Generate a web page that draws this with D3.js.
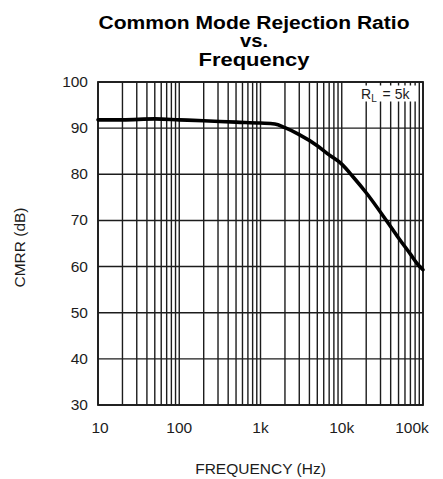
<!DOCTYPE html>
<html>
<head>
<meta charset="utf-8">
<script src="https://cdn.jsdelivr.net/npm/d3@7"></script>
<style>
  body { margin: 0; background: #fff; }
  svg { display: block; }
</style>
</head>
<body>
<svg id="chart"></svg>
<script>
// data
const freqs = [10, 20, 50, 100, 200, 500, 1000, 1500, 2000, 3000, 5000, 7000, 10000, 14000, 20000, 37000, 50000, 70000, 87000, 100000];
const cmrr = [91.8, 91.8, 92.0, 91.8, 91.6, 91.3, 91.1, 90.9, 90.1, 88.6, 86.2, 84.2, 82.2, 79.3, 76.0, 69.5, 66.2, 62.7, 60.4, 59.3];
const xTicks = [10, 100, 1000, 10000, 100000];
const xTickLabels = ["10", "100", "1k", "10k", "100k"];
const yTicks = [30, 40, 50, 60, 70, 80, 90, 100];
const titleLines = ["Common Mode Rejection Ratio", "vs.", "Frequency"];

// sizes
const W = 443, H = 479;
const margin = { top: 82, right: 20, bottom: 74, left: 98 };
const width = W - margin.left - margin.right;
const height = H - margin.top - margin.bottom;
const ink = "#1c1c1c";
const font = "'Liberation Sans', Arial, sans-serif";

const svg = d3.select("#chart")
  .attr("width", W)
  .attr("height", H);

const chart = svg.append("g")
  .attr("transform", `translate(${margin.left},${margin.top})`);

// scales
const xScale = d3.scaleLog()
  .domain([10, 100000])
  .range([0, width]);

const yScale = d3.scaleLinear()
  .domain([30, 100])
  .range([height, 0]);

// vertical grid: 1..9 in every decade
const minor = [];
for (let d = 10; d < 100000; d *= 10) {
  for (let k = 1; k <= 9; k++) minor.push(d * k);
}
minor.push(100000);

chart.append("g")
  .selectAll("line")
  .data(minor)
  .enter()
  .append("line")
  .attr("x1", d => xScale(d))
  .attr("x2", d => xScale(d))
  .attr("y1", 0)
  .attr("y2", height)
  .attr("stroke", ink)
  .attr("stroke-width", 1.4);

// horizontal grid
chart.append("g")
  .selectAll("line")
  .data(yTicks)
  .enter()
  .append("line")
  .attr("x1", 0)
  .attr("x2", width)
  .attr("y1", d => yScale(d))
  .attr("y2", d => yScale(d))
  .attr("stroke", ink)
  .attr("stroke-width", 1.4);

// frame
chart.append("rect")
  .attr("width", width)
  .attr("height", height)
  .attr("fill", "none")
  .attr("stroke", ink)
  .attr("stroke-width", 1.8);

// curve
const line = d3.line()
  .x((d, i) => xScale(freqs[i]))
  .y(d => yScale(d))
  .curve(d3.curveMonotoneX);

chart.append("path")
  .datum(cmrr)
  .attr("d", line)
  .attr("fill", "none")
  .attr("stroke", "#000")
  .attr("stroke-width", 3.6)
  .attr("stroke-linecap", "round");

// legend R_L = 5k with white patch under it
chart.append("rect")
  .attr("x", 260)
  .attr("y", 3.5)
  .attr("width", 60)
  .attr("height", 16)
  .attr("fill", "#fff");

const leg = chart.append("text")
  .attr("x", 263)
  .attr("y", 17)
  .style("font-family", font)
  .style("font-size", "14px")
  .style("fill", ink);
leg.append("tspan").text("R");
leg.append("tspan").attr("dy", 3).style("font-size", "10px").text("L");
leg.append("tspan").attr("dy", -3).attr("dx", 2).text(" =  5k");

// y tick labels
chart.append("g")
  .selectAll("text")
  .data(yTicks)
  .enter()
  .append("text")
  .attr("x", -10)
  .attr("y", d => yScale(d) + 5)
  .attr("text-anchor", "end")
  .style("font-family", font)
  .style("font-size", "15.5px")
  .style("fill", ink)
  .text(d => d);

// x tick labels
chart.append("g")
  .selectAll("text")
  .data(xTicks)
  .enter()
  .append("text")
  .attr("x", (d, i) => xScale(d) + (i === 0 ? 2 : i === 4 ? -11 : 0))
  .attr("y", height + 28)
  .attr("text-anchor", "middle")
  .style("font-family", font)
  .style("font-size", "15.5px")
  .style("fill", ink)
  .text((d, i) => xTickLabels[i]);

// axis titles
chart.append("text")
  .attr("x", width / 2)
  .attr("y", height + 69)
  .attr("text-anchor", "middle")
  .style("font-family", font)
  .style("font-size", "15.5px")
  .style("fill", ink)
  .text("FREQUENCY (Hz)");

chart.append("text")
  .attr("transform", `translate(${25 - margin.left},${height / 2 + 4}) rotate(-90)`)
  .attr("text-anchor", "middle")
  .style("font-family", font)
  .style("font-size", "15.5px")
  .style("fill", ink)
  .text("CMRR (dB)");

// title, stretched to the widths seen in the original
const titleWidths = [311, 28, 111];
svg.append("g")
  .selectAll("text")
  .data(titleLines)
  .enter()
  .append("text")
  .attr("x", 254)
  .attr("y", (d, i) => 29 + i * 18.3)
  .attr("text-anchor", "middle")
  .attr("textLength", (d, i) => titleWidths[i])
  .attr("lengthAdjust", "spacingAndGlyphs")
  .style("font-family", font)
  .style("font-size", "18px")
  .style("font-weight", "bold")
  .style("fill", "#000")
  .text(d => d);
</script>
</body>
</html>
